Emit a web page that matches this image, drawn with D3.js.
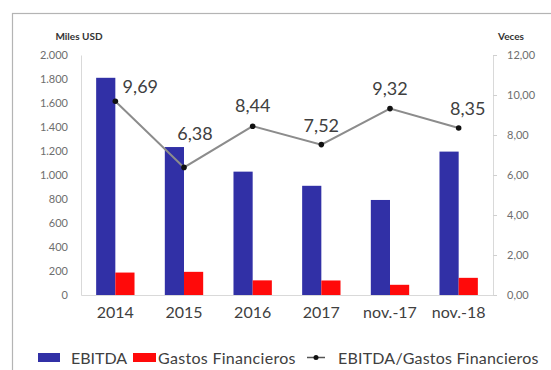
<!DOCTYPE html>
<html>
<head>
<meta charset="utf-8">
<script src="https://cdn.jsdelivr.net/npm/d3@7"></script>
<style>
  html, body { margin: 0; padding: 0; background: #fff; }
  svg { display: block; font-family: Lato, "Open Sans", sans-serif; }
</style>
</head>
<body>
<svg id="chart" width="551" height="370"></svg>
<script>
// Periods on the x axis
const categories = ["2014", "2015", "2016", "2017", "nov.-17", "nov.-18"];
// EBITDA (miles USD)
const ebitda = [1810, 1233, 1028, 910, 792, 1195];
// Gastos financieros (miles USD)
const gastos = [187, 193, 122, 121, 85, 143];
// Cobertura EBITDA / Gastos financieros (veces)
const cobertura = [9.69, 6.38, 8.44, 7.52, 9.32, 8.35];
// Axis ticks
const leftTicks = [0, 200, 400, 600, 800, 1000, 1200, 1400, 1600, 1800, 2000];
const rightTicks = [0, 2, 4, 6, 8, 10, 12];
const seriesNames = ["EBITDA", "Gastos Financieros", "EBITDA/Gastos Financieros"];

// Label nudges for the ratio values (dx, dy from the marker)
const labelNudge = [[25, -8], [11, -27], [0, -14], [0, -13], [0, -14], [9, -13]];

const colors = { ebitda: "#3130A6", gastos: "#FF0A0A", line: "#8c8c8c", marker: "#111" };

const svg = d3.select("#chart");
const plot = { left: 81, right: 493, top: 55, bottom: 295 };

// Outer frame
svg.append("rect")
  .attr("x", 12.5).attr("y", 13.5)
  .attr("width", 600).attr("height", 400)
  .attr("fill", "#fff").attr("stroke", "#b4b4b4").attr("stroke-width", 1.2);

const x = d3.scaleBand().domain(categories).range([plot.left, plot.right]).padding(0);
const xSub = d3.scaleBand().domain(["ebitda", "gastos"]).range([0, x.bandwidth()])
  .paddingInner(0).paddingOuter(0.79);
const yL = d3.scaleLinear().domain([0, 2000]).range([plot.bottom, plot.top]);
const yR = d3.scaleLinear().domain([0, 12]).range([plot.bottom, plot.top]);

const fmtL = d3.formatLocale({ decimal: ",", thousands: ".", grouping: [3], currency: ["", ""] });
const fmtThousands = fmtL.format(",d");
const fmtDec = fmtL.format(",.2f");

// Left axis
const gL = svg.append("g").attr("transform", `translate(${plot.left},0)`)
  .call(d3.axisLeft(yL).tickValues(leftTicks).tickFormat(fmtThousands).tickSize(0).tickPadding(13));
gL.select(".domain").attr("stroke", "#d9d9d9");
gL.selectAll("text").attr("fill", "#6e6e6e").attr("font-size", 11).attr("font-family", "Lato, sans-serif");

// Right axis
const gR = svg.append("g").attr("transform", `translate(${plot.right},0)`)
  .call(d3.axisRight(yR).tickValues(rightTicks).tickFormat(fmtDec).tickSize(4).tickPadding(10));
gR.select(".domain").attr("stroke", "#d9d9d9");
gR.selectAll("line").attr("stroke", "#d0d0d0");
gR.selectAll("text").attr("fill", "#6e6e6e").attr("font-size", 11).attr("font-family", "Lato, sans-serif");

// Bottom axis
const gB = svg.append("g").attr("transform", `translate(0,${plot.bottom})`)
  .call(d3.axisBottom(x).tickSize(0).tickPadding(12));
gB.select(".domain").attr("stroke", "#d9d9d9");
gB.selectAll("text").attr("fill", "#404040").attr("font-size", 16).attr("font-family", "Lato, sans-serif");

// Axis titles
svg.append("text").attr("x", 79).attr("y", 40).attr("text-anchor", "middle")
  .attr("font-size", 10).attr("font-weight", "bold").attr("fill", "#333").text("Miles USD");
svg.append("text").attr("x", 511).attr("y", 40).attr("text-anchor", "middle")
  .attr("font-size", 10).attr("font-weight", "bold").attr("fill", "#333").text("Veces");

// Bars
const groups = svg.append("g").selectAll("g").data(categories).join("g")
  .attr("transform", d => `translate(${x(d)},0)`);
groups.append("rect")
  .attr("x", xSub("ebitda")).attr("width", xSub.bandwidth())
  .attr("y", (d, i) => yL(ebitda[i])).attr("height", (d, i) => plot.bottom - yL(ebitda[i]))
  .attr("fill", colors.ebitda);
groups.append("rect")
  .attr("x", xSub("gastos")).attr("width", xSub.bandwidth())
  .attr("y", (d, i) => yL(gastos[i])).attr("height", (d, i) => plot.bottom - yL(gastos[i]))
  .attr("fill", colors.gastos);

// Coverage line
const cx = d => x(d) + x.bandwidth() / 2;
const line = d3.line().x((d, i) => cx(categories[i])).y(d => yR(d));
svg.append("path").datum(cobertura).attr("d", line)
  .attr("fill", "none").attr("stroke", colors.line).attr("stroke-width", 2);
svg.append("g").selectAll("circle").data(cobertura).join("circle")
  .attr("cx", (d, i) => cx(categories[i])).attr("cy", d => yR(d)).attr("r", 2.8)
  .attr("fill", colors.marker);

// Value labels
svg.append("g").selectAll("text").data(cobertura).join("text")
  .attr("x", (d, i) => cx(categories[i]) + labelNudge[i][0])
  .attr("y", (d, i) => yR(d) + labelNudge[i][1])
  .attr("text-anchor", "middle").attr("font-size", 18).attr("fill", "#404040")
  .text(d => fmtDec(d));

// Legend
const lg = svg.append("g").attr("font-size", 16).attr("fill", "#404040");
lg.append("rect").attr("x", 38).attr("y", 353).attr("width", 22).attr("height", 9).attr("fill", colors.ebitda);
lg.append("text").attr("x", 71).attr("y", 363.5).text(seriesNames[0]);
lg.append("rect").attr("x", 133).attr("y", 353).attr("width", 23).attr("height", 9).attr("fill", colors.gastos);
lg.append("text").attr("x", 158).attr("y", 363.5).attr("letter-spacing", 0.3).text(seriesNames[1]);
lg.append("line").attr("x1", 307).attr("x2", 325).attr("y1", 357.5).attr("y2", 357.5)
  .attr("stroke", "#555").attr("stroke-width", 1.5);
lg.append("circle").attr("cx", 316).attr("cy", 357.5).attr("r", 2.5).attr("fill", colors.marker);
lg.append("text").attr("x", 338).attr("y", 363.5).attr("letter-spacing", 0.2).text(seriesNames[2]);
</script>
</body>
</html>
